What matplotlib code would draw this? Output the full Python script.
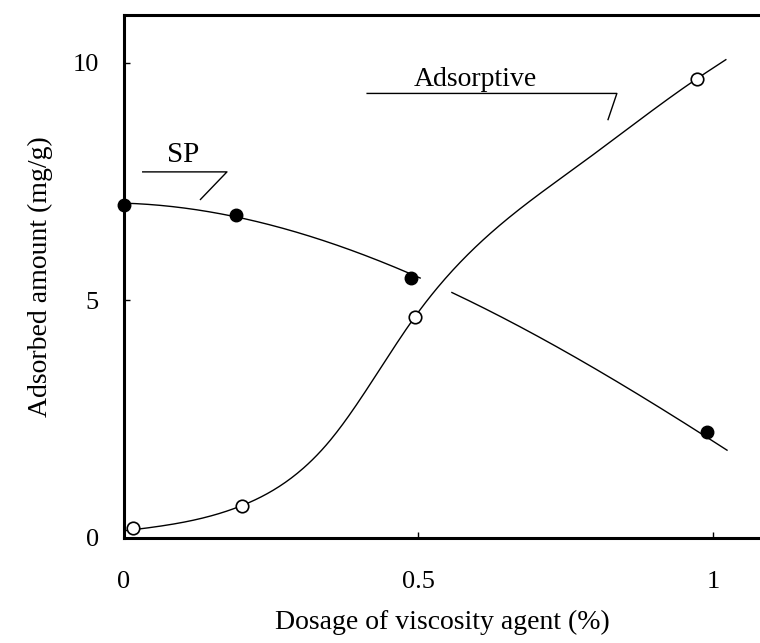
import numpy as np
import matplotlib
matplotlib.use('Agg')
import matplotlib.pyplot as plt

plt.rcParams['font.family'] = ['Liberation Serif', 'DejaVu Serif']

# measured points
sp_x = [0.0, 0.19, 0.487, 0.99]
sp_y = [7.0, 6.8, 5.47, 2.23]
ads_x = [0.015, 0.2, 0.494, 0.973]
ads_y = [0.2, 0.68, 4.65, 9.66]

# points
sp_line_x = [0.0, 0.19, 0.35, 0.487, 0.562, 0.723, 0.99, 1.024]
sp_line_y = [7.02, 6.8, 6.25, 5.47, 5.1, 4.15, 2.22, 1.75]
ads_line_x = [0.0, 0.2, 0.35, 0.494, 0.61, 0.779, 0.973, 1.022]
ads_line_y = [0.15, 0.68, 2.05, 4.65, 6.27, 7.9, 9.66, 10.06]


def spline(x, y, xn):
    # natural cubic spline through the read points
    x = np.asarray(x, float)
    y = np.asarray(y, float)
    n = len(x)
    h = np.diff(x)
    A = np.zeros((n, n))
    r = np.zeros(n)
    A[0, 0] = A[-1, -1] = 1
    for k in range(1, n - 1):
        A[k, k - 1] = h[k - 1]
        A[k, k] = 2 * (h[k - 1] + h[k])
        A[k, k + 1] = h[k]
        r[k] = 6 * ((y[k + 1] - y[k]) / h[k] - (y[k] - y[k - 1]) / h[k - 1])
    M = np.linalg.solve(A, r)
    i = np.clip(np.searchsorted(x, xn) - 1, 0, n - 2)
    a = x[i + 1] - xn
    b = xn - x[i]
    return (M[i] * a**3 + M[i + 1] * b**3) / (6 * h[i]) \
        + (y[i] / h[i] - M[i] * h[i] / 6) * a + (y[i + 1] / h[i] - M[i + 1] * h[i] / 6) * b


fig = plt.figure(figsize=(7.6, 6.43), dpi=100)
ax = fig.add_axes([0.163, 0.1633, 0.837, 0.8134])

xs = np.linspace(0, sp_line_x[-1], 400)
sp_fit = np.polyval(np.polyfit(sp_line_x, sp_line_y, 3), xs)
sp_fit[(xs > 0.505) & (xs < 0.556)] = np.nan   # gap where the curves cross
xa = np.linspace(0, ads_line_x[-1], 400)
ads_fit = spline(ads_line_x, ads_line_y, xa)

ax.plot(xs, sp_fit, color='black', lw=1.0, zorder=2)
ax.plot(xa, ads_fit, color='black', lw=1.0, zorder=2)
ax.plot(sp_x, sp_y, 'o', color='black', ms=9, zorder=3, clip_on=False)
ax.plot(ads_x, ads_y, 'o', mfc='white', mec='black', mew=1.2, ms=9, zorder=3, clip_on=False)

# labels with leader lines
ax.text(0.10, 7.78, 'SP', fontsize=21, ha='center', va='bottom')
ax.plot([0.032, 0.175, 0.13], [7.7, 7.7, 7.12], color='black', lw=1.0)
ax.text(0.596, 9.38, 'Adsorptive', fontsize=20, ha='center', va='bottom')
ax.plot([0.413, 0.837, 0.822], [9.35, 9.35, 8.8], color='black', lw=1.0)

ax.set_xlim(0, 1.08)
ax.set_ylim(0, 11)
ax.set_xticks([0, 0.5, 1])
ax.set_xticklabels(['0', '0.5', '1'])
ax.set_yticks([0, 5, 10])
ax.tick_params(direction='in', length=4, width=1, labelsize=19)
ax.tick_params(axis='x', pad=24)
ax.tick_params(axis='y', pad=18)
ax.spines['right'].set_visible(False)
for s in ['left', 'top', 'bottom']:
    ax.spines[s].set_linewidth(2.2)

ax.set_xlabel('Dosage of viscosity agent (%)', fontsize=20, labelpad=12)
ax.set_ylabel('Adsorbed amount (mg/g)', fontsize=20, labelpad=14)

fig.savefig('out.png', dpi=100)
